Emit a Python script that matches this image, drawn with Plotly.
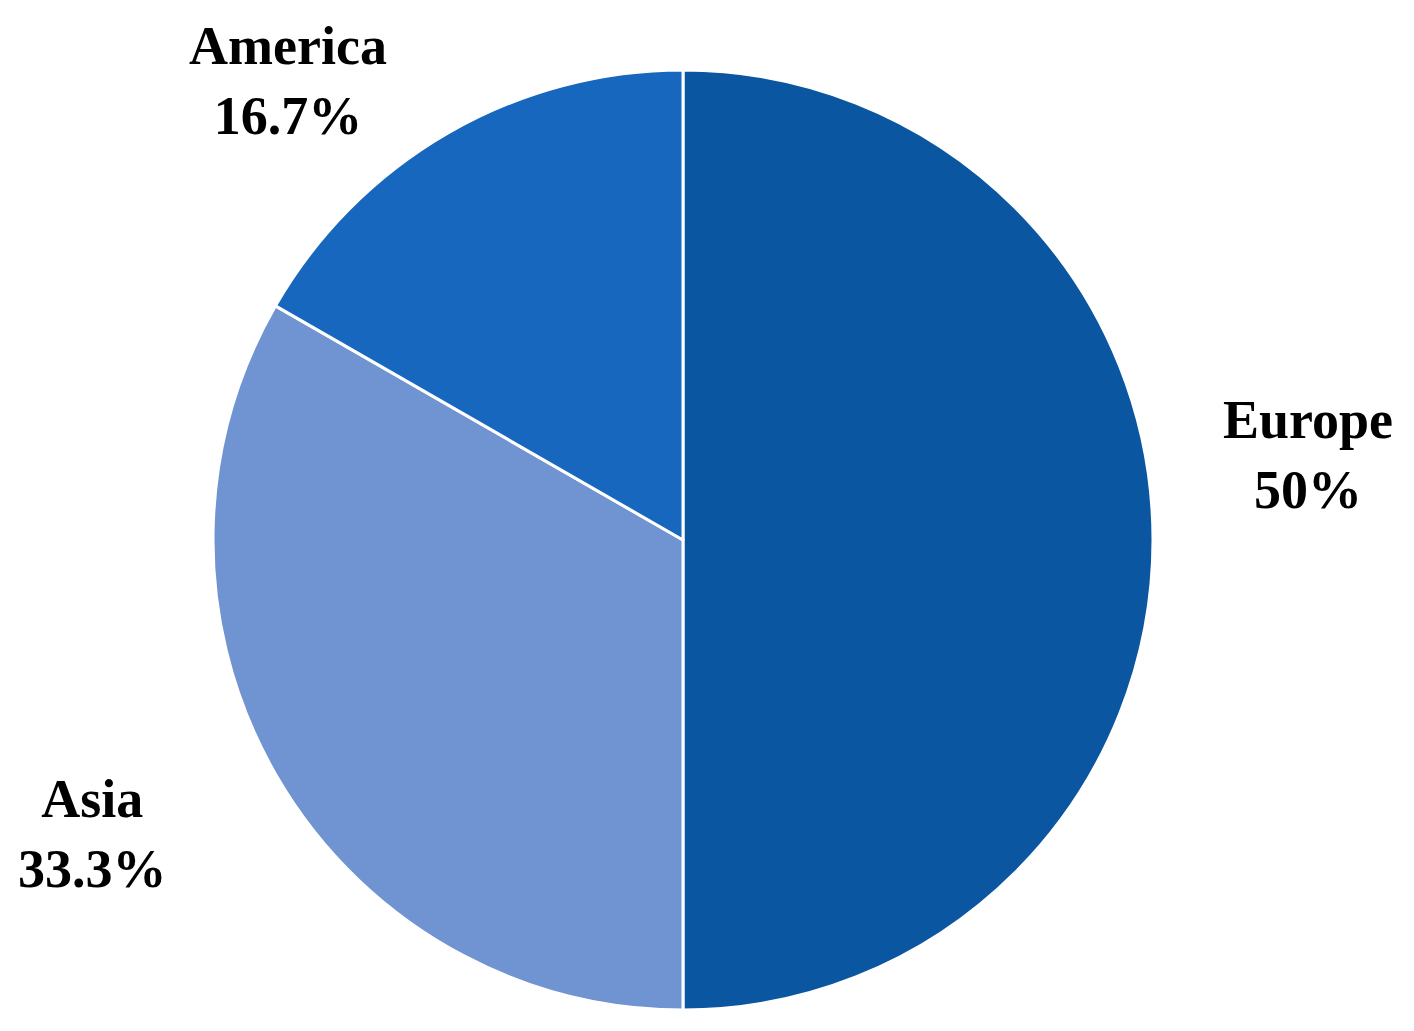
import plotly.graph_objects as go

regions = ["Europe", "Asia", "America"]
shares = [50.0, 33.3, 16.7]
colors = ["#0A56A0", "#7094D1", "#1767BF"]

W, H = 1414, 1031
OFF = 8  # browser default body margin
cx, cy, r = 683 - OFF, 540 - OFF, 470
fig = go.Figure(go.Pie(
    labels=regions,
    values=shares,
    sort=False,
    direction="clockwise",
    rotation=0,
    marker=dict(colors=colors, line=dict(color="white", width=3)),
    textinfo="none",
    hoverinfo="label+percent",
    domain=dict(x=[(cx - r) / W, (cx + r) / W], y=[1 - (cy + r) / H, 1 - (cy - r) / H]),
    showlegend=False,
))

label_pos = {"Europe": (1308, 455), "Asia": (92, 834), "America": (288, 81)}
total = sum(shares)
for name, v in zip(regions, shares):
    px, py = label_pos[name]
    pct = f"{v / total * 100:.1f}".rstrip("0").rstrip(".") + "%"
    fig.add_annotation(
        x=(px - OFF) / W, y=1 - (py - OFF) / H, xref="paper", yref="paper",
        text=f"<b>{name}</b><br><b>{pct}</b>", showarrow=False,
        font=dict(family="Liberation Serif, DejaVu Serif, serif", size=54, color="black"),
        xanchor="center", yanchor="middle", align="center",
    )

fig.update_layout(
    width=W, height=H,
    margin=dict(l=0, r=0, t=0, b=0),
    paper_bgcolor="white", plot_bgcolor="white",
)
fig.write_html("out.html")
